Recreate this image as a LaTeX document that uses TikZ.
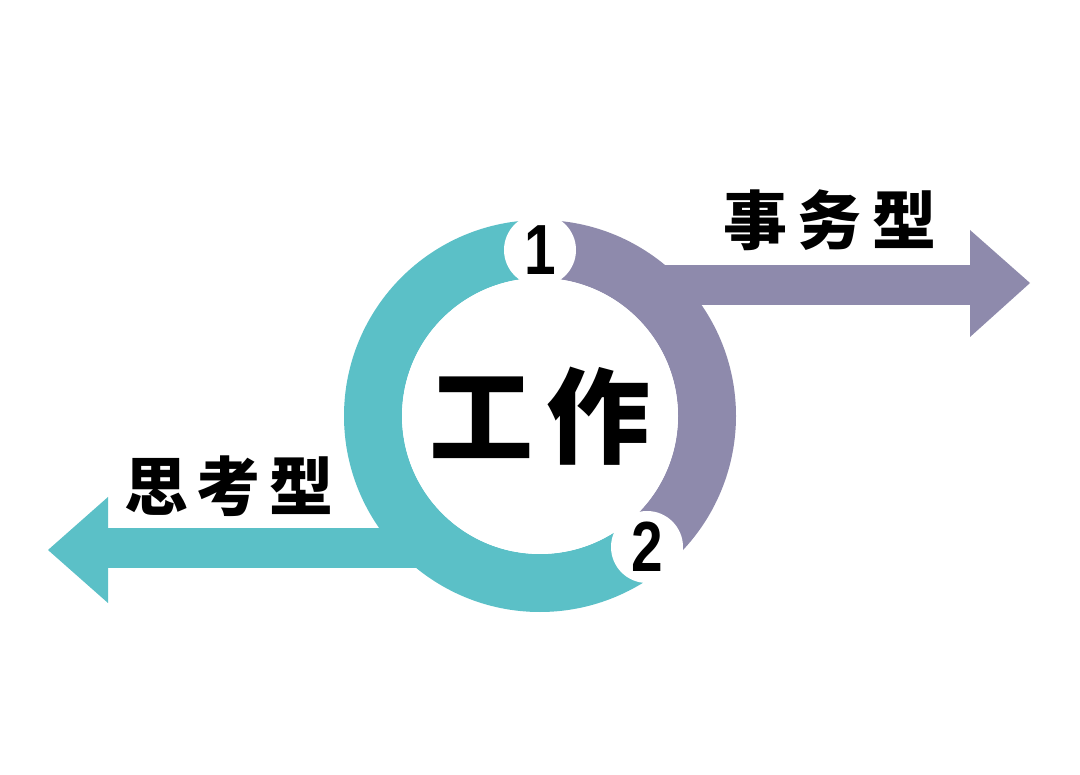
\documentclass[tikz,border=0pt]{standalone}
\usepackage{fontspec}
\newfontfamily\cjk{Noto Sans CJK SC}
\newfontfamily\digits{Liberation Sans}
\definecolor{ringteal}{RGB}{91,192,199}
\definecolor{ringpurple}{RGB}{142,138,172}
\tikzset{
  band/.style={line width=58pt},
  numdisk/.style={circle, fill=white, minimum size=72pt, inner sep=0pt,
    font=\digits\bfseries\fontsize{71}{71}\selectfont},
  cjklabel/.style={inner sep=0pt, font=\cjk\bfseries\fontsize{64}{64}\selectfont}
}
\begin{document}
\begin{tikzpicture}[x=1pt,y=-1pt]
\useasboundingbox[fill=white] (0,0) rectangle (1080,775);
\coordinate (c) at (540,416);
% arrows (shafts and heads)
\fill[ringpurple] (625,265) rectangle (971,305);
\fill[ringpurple] (970,230) -- (1030,283) -- (970,337) -- cycle;
\fill[ringteal] (460,528) rectangle (107,568);
\fill[ringteal] (108,497) -- (48,550) -- (108,603) -- cycle;
% ring
\draw[band, ringteal] (c) ++(270:167) arc[start angle=270, end angle=50.8, radius=167];
\draw[band, ringpurple] (c) ++(-90:167) arc[start angle=-90, end angle=50.8, radius=167];
% centre disk
\node[circle, fill=white, minimum size=276pt, inner sep=0pt,
  font=\cjk\bfseries\fontsize{104}{104}\selectfont] (work) at (c) {工\hspace{13pt}作};
% numbered disks
\node[numdisk] (n1) at (540,250) {\scalebox{0.8}[1]{1}};
\node[numdisk] (n2) at (647,547) {\scalebox{0.8}[1]{2}};
% labels
\node[cjklabel] (affair) at (830,220) {事\hspace{11pt}务\hspace{11pt}型};
\node[cjklabel] (think) at (229,486) {思\hspace{9pt}考\hspace{9pt}型};
\end{tikzpicture}
\end{document}
